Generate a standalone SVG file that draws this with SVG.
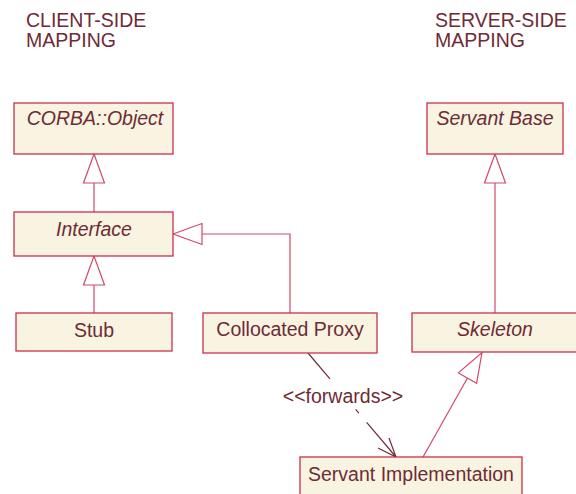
<svg xmlns="http://www.w3.org/2000/svg" width="576" height="494" viewBox="0 0 576 494">
<style>
.box{fill:#f8f4e1;stroke:#c9304c;stroke-width:1.3}
.t{font-family:"Liberation Sans",Arial,sans-serif;font-size:19.5px;fill:#6e2b35}
.i{font-style:italic}
.m{text-anchor:middle}
.gen{fill:none;stroke:#d04a66;stroke-width:1.2}
.tri{fill:#ffffff;stroke:#d04a66;stroke-width:1.2}
.dep{fill:none;stroke:#6e2b35;stroke-width:1.2}
</style>
<rect width="576" height="494" fill="#ffffff"/>
<g id="titles">
<text class="t" x="26" y="27">CLIENT-SIDE</text>
<text class="t" x="26" y="47">MAPPING</text>
<text class="t" x="435" y="27">SERVER-SIDE</text>
<text class="t" x="435" y="47">MAPPING</text>
</g>
<g id="connectors">
<line class="gen" x1="94" y1="183" x2="94" y2="212"/>
<polygon class="tri" points="94,154 83.5,183 104.5,183"/>
<line class="gen" x1="94" y1="285" x2="94" y2="313"/>
<polygon class="tri" points="94,256 83.5,285 104.5,285"/>
<polyline class="gen" points="202,234 290,234 290,313"/>
<polygon class="tri" points="173,234 202,223.5 202,244.5"/>
<line class="gen" x1="495" y1="183" x2="495" y2="313"/>
<polygon class="tri" points="495,154 484.5,183 505.5,183"/>
<line class="gen" x1="423" y1="457" x2="467.5" y2="378"/>
<polygon class="tri" points="482,352.5 476.6,383.3 458.4,372.9"/>
<path class="dep" d="M308,353 L396,457" stroke-dasharray="34 39.8 4.9 12.1 46"/>
<polyline class="dep" points="378,448 396,457 389,438"/>
<text class="t m" x="343" y="403">&lt;&lt;forwards&gt;&gt;</text>
</g>
<g id="corba-object">
<rect class="box" x="14" y="103" width="159" height="51"/>
<text class="t i m" x="95" y="125">CORBA::Object</text>
</g>
<g id="interface">
<rect class="box" x="14" y="212" width="159" height="44"/>
<text class="t i m" x="94" y="236">Interface</text>
</g>
<g id="stub">
<rect class="box" x="16" y="313" width="156" height="38"/>
<text class="t m" x="94" y="337">Stub</text>
</g>
<g id="collocated-proxy">
<rect class="box" x="203" y="313" width="174" height="40"/>
<text class="t m" x="290" y="336">Collocated Proxy</text>
</g>
<g id="servant-base">
<rect class="box" x="427" y="103" width="136" height="51"/>
<text class="t i m" x="495" y="125">Servant Base</text>
</g>
<g id="skeleton">
<rect class="box" x="412" y="313" width="166" height="39"/>
<text class="t i m" x="495" y="336">Skeleton</text>
</g>
<g id="servant-implementation">
<rect class="box" x="300" y="457" width="222" height="45"/>
<text class="t m" x="411" y="481">Servant Implementation</text>
</g>
</svg>
